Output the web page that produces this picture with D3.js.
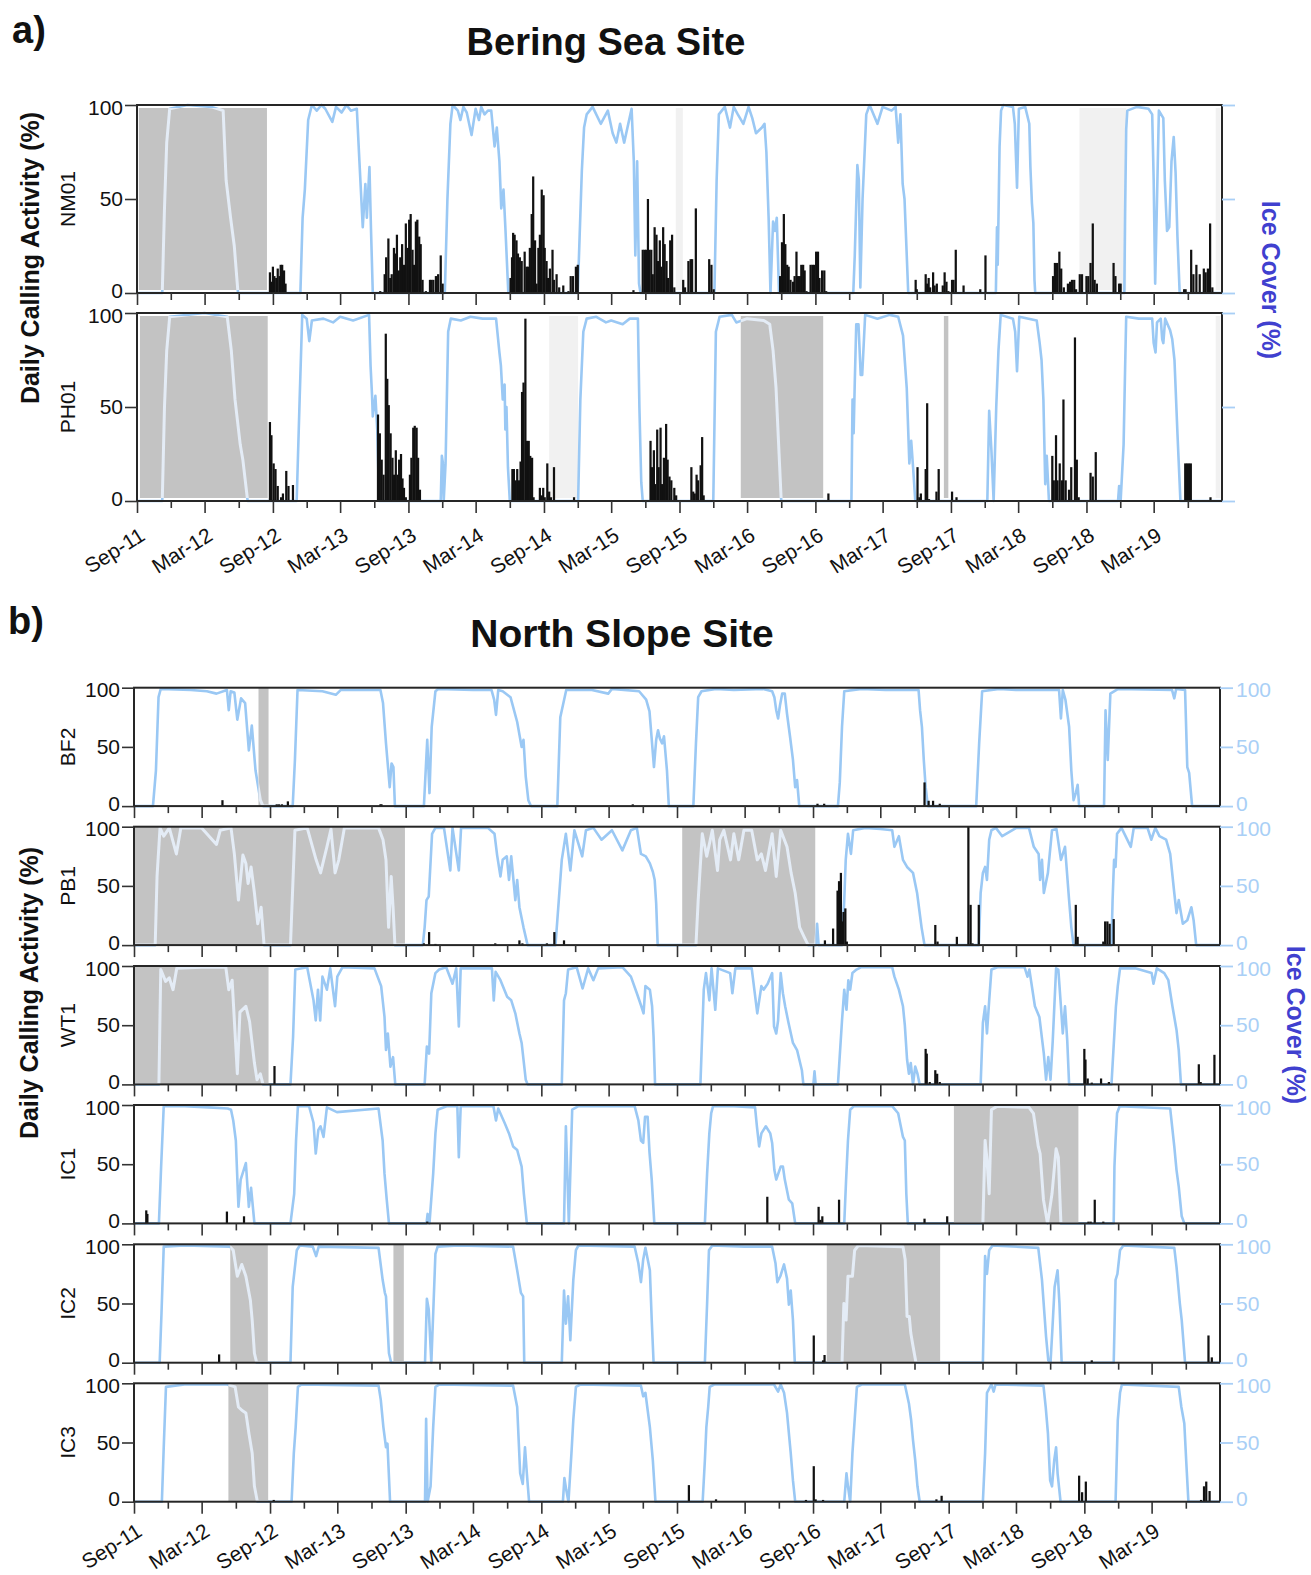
<!DOCTYPE html>
<html>
<head>
<meta charset="utf-8">
<script src="https://cdnjs.cloudflare.com/ajax/libs/d3/7.8.5/d3.min.js"></script>
<style>
  body { margin: 0; background: #fff; }
  svg { display: block; }
</style>
</head>
<body>
<svg id="chart" width="1311" height="1575"></svg>
<script>
const X_LABELS = ['Sep-11','Mar-12','Sep-12','Mar-13','Sep-13','Mar-14','Sep-14','Mar-15','Sep-15','Mar-16','Sep-16','Mar-17','Sep-17','Mar-18','Sep-18','Mar-19'];
const Y_TICKS = [0, 50, 100];

// ---- Bering Sea ----
const iceNM01 = [["2011-09-01",0],
  ["2011-11-08",0],["2011-11-14",45],["2011-11-20",80],["2011-11-28",98],["2012-01-15",100],["2012-03-20",99],["2012-04-20",97],["2012-04-28",60],["2012-05-10",40],["2012-05-20",25],["2012-05-30",0],
  ["2012-11-14",0],["2012-11-20",40],["2012-11-26",55],["2012-12-05",92],["2012-12-15",100],["2012-12-28",97],["2013-01-10",100],["2013-01-20",98],["2013-02-08",91],["2013-02-18",99],["2013-03-05",96],["2013-03-18",100],["2013-03-30",97],["2013-04-15",98],["2013-04-22",70],["2013-05-01",35],["2013-05-08",58],["2013-05-12",40],["2013-05-19",67],["2013-05-23",35],["2013-05-28",0],
  ["2013-12-08",0],["2013-12-15",50],["2013-12-23",90],["2013-12-29",100],["2014-01-12",97],["2014-01-19",92],["2014-01-27",99],["2014-02-05",96],["2014-02-18",84],["2014-03-01",98],["2014-03-10",92],["2014-03-16",99],["2014-03-25",95],["2014-04-03",97],["2014-04-12",97],["2014-04-21",78],["2014-04-27",88],["2014-05-04",70],["2014-05-09",45],["2014-05-15",55],["2014-05-20",35],["2014-05-28",0],
  ["2014-12-01",0],["2014-12-06",30],["2014-12-12",65],["2014-12-18",88],["2014-12-25",95],["2015-01-10",99],["2015-02-01",90],["2015-02-20",97],["2015-03-05",85],["2015-03-15",80],["2015-03-25",90],["2015-04-05",80],["2015-04-25",98],["2015-05-01",70],["2015-05-05",20],["2015-05-10",70],["2015-05-15",5],["2015-05-19",0],
  ["2015-12-04",0],["2015-12-10",60],["2015-12-16",95],["2016-01-01",99],["2016-01-15",88],["2016-01-25",99],["2016-02-05",95],["2016-02-20",90],["2016-03-05",99],["2016-03-15",93],["2016-03-25",85],["2016-04-10",88],["2016-04-17",90],["2016-04-22",75],["2016-04-28",40],["2016-05-03",0],["2016-05-10",38],["2016-05-15",33],["2016-05-20",40],["2016-05-26",0],
  ["2016-12-12",0],["2016-12-16",20],["2016-12-23",68],["2016-12-27",60],["2016-12-31",3],["2017-01-06",50],["2017-01-16",95],["2017-01-25",100],["2017-02-15",90],["2017-03-01",99],["2017-03-25",97],["2017-04-05",99],["2017-04-12",80],["2017-04-18",95],["2017-04-24",58],["2017-04-29",50],["2017-05-03",30],["2017-05-09",0],
  ["2017-12-31",0],["2018-01-03",35],["2018-01-05",15],["2018-01-10",78],["2018-01-14",97],["2018-01-20",100],["2018-02-15",99],["2018-02-20",90],["2018-02-26",56],["2018-03-03",98],["2018-03-20",99],["2018-03-31",90],["2018-04-03",67],["2018-04-07",48],["2018-04-11",37],["2018-04-14",7],["2018-04-16",0],
  ["2018-12-12",0],["2018-12-14",42],["2018-12-17",87],["2018-12-20",97],["2019-01-15",99],["2019-02-15",98],["2019-02-25",95],["2019-03-01",60],["2019-03-05",5],["2019-03-10",50],["2019-03-15",97],["2019-03-27",93],["2019-03-31",60],["2019-04-06",33],["2019-04-12",35],["2019-04-18",70],["2019-04-24",83],["2019-04-29",64],["2019-05-04",30],["2019-05-10",0],
  ["2019-09-01",0]];
const callsNM01 = [
  ["2012-08-24",11],["2012-08-28",6],["2012-09-01",14],["2012-09-05",9],["2012-09-10",8],["2012-09-14",13],["2012-09-19",9],["2012-09-22",15],["2012-09-26",15],["2012-10-01",12],["2012-10-05",5],
  ["2013-06-17",1],["2013-06-29",10],["2013-07-03",19],["2013-07-09",29],["2013-07-14",8],["2013-07-18",10],["2013-07-24",24],["2013-07-28",21],["2013-08-01",31],["2013-08-06",12],["2013-08-10",19],["2013-08-15",26],["2013-08-20",15],["2013-08-25",37],["2013-08-30",24],["2013-09-03",39],["2013-09-07",42],["2013-09-12",23],["2013-09-16",15],["2013-09-21",38],["2013-09-25",39],["2013-09-30",30],["2013-10-04",26],["2013-10-09",7],["2013-10-18",1],["2013-10-29",7],["2013-11-02",7],["2013-11-07",7],["2013-11-14",9],["2013-11-20",10],["2013-11-27",20],["2013-12-02",5],
  ["2014-06-03",8],["2014-06-07",19],["2014-06-10",32],["2014-06-14",31],["2014-06-19",28],["2014-06-23",21],["2014-06-28",19],["2014-07-03",17],["2014-07-11",22],["2014-07-16",14],["2014-07-20",14],["2014-07-25",24],["2014-07-30",42],["2014-08-03",62],["2014-08-08",28],["2014-08-12",5],["2014-08-17",24],["2014-08-21",31],["2014-08-26",55],["2014-08-31",52],["2014-09-03",24],["2014-09-08",17],["2014-09-12",8],["2014-09-17",13],["2014-09-24",23],["2014-09-28",7],["2014-10-05",10],["2014-10-12",3],["2014-10-23",4],["2014-11-06",1],["2014-11-12",9],["2014-11-18",9],["2014-11-26",14],["2014-12-01",15],
  ["2015-04-30",1.5],["2015-05-25",23],["2015-05-30",23],["2015-06-03",23],["2015-06-08",50],["2015-06-12",23],["2015-06-17",23],["2015-06-21",10],["2015-06-26",35],["2015-07-01",31],["2015-07-05",17],["2015-07-10",28],["2015-07-14",14],["2015-07-19",35],["2015-07-23",26],["2015-07-28",17],["2015-08-01",8],["2015-08-07",28],["2015-08-12",31],["2015-08-18",3],["2015-09-11",7],["2015-09-16",3],["2015-09-25",17],["2015-10-01",18],["2015-10-05",18],["2015-10-15",45],["2015-11-20",18],["2015-11-26",15],["2015-12-02",2],
  ["2016-05-29",9],["2016-06-03",27],["2016-06-08",42],["2016-06-12",26],["2016-06-17",15],["2016-06-21",14],["2016-06-26",7],["2016-07-03",6],["2016-07-07",9],["2016-07-12",22],["2016-07-16",9],["2016-07-21",9],["2016-07-25",15],["2016-07-30",15],["2016-08-03",12],["2016-08-08",1],["2016-08-19",15],["2016-08-24",15],["2016-08-28",15],["2016-09-03",22],["2016-09-08",22],["2016-09-12",8],["2016-09-19",12],["2016-09-25",12],["2016-09-30",1],
  ["2017-05-29",7],["2017-06-01",2],["2017-06-25",10],["2017-06-29",5],["2017-07-03",8],["2017-07-07",3],["2017-07-15",11],["2017-07-19",4],["2017-07-25",5],["2017-08-10",4],["2017-08-15",11],["2017-08-20",6],["2017-08-25",1],["2017-09-04",7],["2017-09-08",7],["2017-09-14",23],["2017-10-05",4],["2017-11-19",2],["2017-12-03",20],
  ["2018-06-03",9],["2018-06-08",16],["2018-06-14",16],["2018-06-20",22],["2018-06-25",13],["2018-07-02",3],["2018-07-13",5],["2018-07-19",6],["2018-07-24",7],["2018-07-30",7],["2018-08-04",2],["2018-08-14",10],["2018-08-20",10],["2018-09-01",9],["2018-09-06",9],["2018-09-12",16],["2018-09-18",37],["2018-09-23",7],["2018-09-29",5],["2018-11-13",16],["2018-11-18",9],["2018-11-28",5],["2018-12-02",5],
  ["2019-05-22",2],["2019-05-26",2],["2019-06-10",23],["2019-06-16",10],["2019-06-24",15],["2019-07-03",10],["2019-07-14",13],["2019-07-19",11],["2019-07-25",13],["2019-07-31",37],["2019-08-06",3]];
const gapsNM01 = [["2011-09-06","2012-08-16"]];
const faintNM01 = [["2015-08-22","2015-09-10"],["2018-08-13","2018-12-17"],["2019-08-15","2019-08-28"]];

const icePH01 = [["2011-09-01",0],
  ["2011-11-08",0],["2011-11-14",50],["2011-11-20",80],["2011-11-28",98],["2012-03-01",100],["2012-05-01",98],["2012-05-12",80],["2012-05-22",54],["2012-06-05",30],["2012-06-12",22],["2012-06-25",0],
  ["2012-11-04",0],["2012-11-12",54],["2012-11-19",99],["2012-12-01",97],["2012-12-08",85],["2012-12-15",96],["2013-01-15",97],["2013-02-10",95],["2013-03-01",98],["2013-04-05",96],["2013-05-18",99],["2013-05-22",72],["2013-05-26",56],["2013-05-28",45],["2013-06-04",56],["2013-06-09",38],["2013-06-14",0],
  ["2013-11-27",0],["2013-11-30",24],["2013-12-03",20],["2013-12-05",0],["2013-12-10",20],["2013-12-17",90],["2013-12-24",97],["2014-01-20",96],["2014-02-15",98],["2014-03-20",97],["2014-04-25",97],["2014-05-04",79],["2014-05-08",72],["2014-05-13",54],["2014-05-18",62],["2014-05-20",38],["2014-05-23",50],["2014-05-27",18],["2014-06-01",0],
  ["2014-12-02",0],["2014-12-08",54],["2014-12-16",90],["2014-12-25",97],["2015-01-20",98],["2015-02-15",95],["2015-03-01",96],["2015-04-01",94],["2015-04-20",97],["2015-05-12",97],["2015-05-16",50],["2015-05-21",10],["2015-05-25",0],
  ["2015-12-01",0],["2015-12-08",90],["2015-12-18",98],["2016-01-20",99],["2016-02-01",95],["2016-03-01",97],["2016-04-15",96],["2016-05-01",94],["2016-05-10",80],["2016-05-18",60],["2016-05-25",30],["2016-06-01",0],
  ["2016-12-07",0],["2016-12-10",54],["2016-12-13",36],["2016-12-16",63],["2016-12-20",94],["2016-12-26",94],["2017-01-01",67],["2017-01-05",67],["2017-01-13",99],["2017-02-15",97],["2017-03-20",99],["2017-04-12",98],["2017-04-25",88],["2017-05-05",60],["2017-05-12",20],["2017-05-17",32],["2017-05-22",18],["2017-05-28",0],
  ["2017-12-08",0],["2017-12-13",48],["2017-12-19",27],["2017-12-25",0],["2018-01-01",50],["2018-01-07",80],["2018-01-13",99],["2018-02-15",97],["2018-02-21",90],["2018-02-26",69],["2018-03-04",98],["2018-04-20",96],["2018-04-28",84],["2018-05-03",75],["2018-05-08",54],["2018-05-13",9],["2018-05-17",24],["2018-05-23",0],
  ["2018-11-25",0],["2018-11-28",8],["2018-12-02",0],["2018-12-10",30],["2018-12-14",70],["2018-12-17",98],["2019-01-20",97],["2019-02-25",97],["2019-03-01",84],["2019-03-06",79],["2019-03-10",95],["2019-03-20",97],["2019-03-24",86],["2019-03-27",84],["2019-04-01",97],["2019-04-14",91],["2019-04-20",86],["2019-04-26",75],["2019-05-04",36],["2019-05-12",0],
  ["2019-09-01",0]];
const callsPH01 = [
  ["2012-08-24",42],["2012-08-28",35],["2012-09-03",20],["2012-09-08",17],["2012-09-14",8],["2012-09-23",2],["2012-09-28",4],["2012-10-07",16],["2012-10-13",8],["2012-10-25",8.5],
  ["2013-06-11",46],["2013-06-16",36],["2013-06-21",22],["2013-06-26",14],["2013-07-02",89],["2013-07-06",65],["2013-07-10",51],["2013-07-15",36],["2013-07-20",23],["2013-07-24",14],["2013-07-29",27],["2013-08-03",14],["2013-08-07",22],["2013-08-12",25],["2013-08-16",12],["2013-08-20",7],["2013-08-25",2],["2013-09-05",14],["2013-09-09",23],["2013-09-14",39],["2013-09-18",40],["2013-09-23",39],["2013-09-27",23],["2013-10-02",6],
  ["2014-06-08",17],["2014-06-12",17],["2014-06-17",11],["2014-06-21",17],["2014-06-26",11],["2014-06-30",21],["2014-07-04",58],["2014-07-08",63],["2014-07-13",97],["2014-07-17",32],["2014-07-22",32],["2014-07-26",24],["2014-07-31",23],["2014-08-04",2],["2014-08-21",7],["2014-08-26",3],["2014-08-30",7],["2014-09-03",2],["2014-09-10",20],["2014-09-15",5],["2014-09-20",2],["2014-09-28",18],["2014-11-21",2],
  ["2015-06-15",32],["2015-06-19",18],["2015-06-24",27],["2015-06-28",9],["2015-07-03",38],["2015-07-07",18],["2015-07-12",39],["2015-07-16",9],["2015-07-21",23],["2015-07-27",41],["2015-07-31",22],["2015-08-05",13],["2015-08-10",11],["2015-08-18",7],["2015-08-23",3],["2015-10-03",18],["2015-10-08",5],["2015-10-12",4],["2015-10-17",14],["2015-10-21",11],["2015-10-28",19],["2015-11-01",34],["2015-11-05",3],
  ["2016-10-06",4],
  ["2017-06-03",18],["2017-06-08",2],["2017-06-12",4],["2017-06-25",17],["2017-06-29",52],["2017-07-04",1],["2017-07-24",5],["2017-07-30",17],["2017-09-04",5],["2017-09-16",2],
  ["2018-06-01",24],["2018-06-05",11],["2018-06-11",35],["2018-06-15",11],["2018-06-21",20],["2018-06-27",11],["2018-07-01",54],["2018-07-07",11],["2018-07-16",6],["2018-07-22",18],["2018-08-01",87],["2018-08-06",22],["2018-08-11",2],["2018-09-12",15],["2018-09-18",13],["2018-09-26",26],
  ["2019-05-25",20],["2019-05-30",20],["2019-06-04",20],["2019-06-09",20],["2019-08-01",2]];
const gapsPH01 = [["2011-09-09","2012-08-18"],["2016-02-13","2016-09-22"],["2017-08-13","2017-08-25"]];
const faintPH01 = [["2014-09-15","2014-12-02"],["2019-08-15","2019-08-28"]];

// ---- North Slope ----
const iceBF2 = [["2011-09-01",0],
  ["2011-10-22",0],["2011-10-30",30],["2011-11-06",92],["2011-11-12",99],["2012-02-01",98],["2012-03-15",97],["2012-04-10",95],["2012-05-08",98],["2012-05-13",81],["2012-05-18",97],["2012-05-28",96],["2012-06-05",73],["2012-06-15",91],["2012-06-26",87],["2012-07-06",47],["2012-07-14",68],["2012-07-24",30],["2012-08-06",5],["2012-08-13",0],
  ["2012-11-01",0],["2012-11-07",39],["2012-11-14",98],["2013-01-20",97],["2013-02-25",94],["2013-03-10",98],["2013-06-25",98],["2013-07-02",87],["2013-07-10",53],["2013-07-20",16],["2013-07-25",36],["2013-07-30",33],["2013-08-03",0],
  ["2013-10-20",0],["2013-10-29",56],["2013-11-04",11],["2013-11-10",67],["2013-11-20",97],["2013-11-28",99],["2014-03-01",98],["2014-04-20",98],["2014-04-27",90],["2014-05-02",77],["2014-05-08",98],["2014-05-20",97],["2014-06-10",92],["2014-06-28",71],["2014-07-10",50],["2014-07-15",56],["2014-07-21",25],["2014-07-28",5],["2014-08-04",0],
  ["2014-10-14",0],["2014-10-22",75],["2014-11-07",98],["2015-01-15",98],["2015-02-28",95],["2015-03-10",99],["2015-05-22",97],["2015-06-10",90],["2015-06-19",80],["2015-07-01",33],["2015-07-07",56],["2015-07-12",64],["2015-07-17",57],["2015-07-23",53],["2015-07-28",59],["2015-08-05",30],["2015-08-10",0],
  ["2015-10-15",0],["2015-10-22",53],["2015-10-28",92],["2015-11-06",97],["2015-12-15",99],["2016-02-01",98],["2016-04-20",99],["2016-05-14",97],["2016-05-20",92],["2016-05-25",81],["2016-05-30",74],["2016-06-04",85],["2016-06-10",95],["2016-06-17",95],["2016-06-23",78],["2016-07-01",59],["2016-07-09",39],["2016-07-15",16],["2016-07-20",22],["2016-07-26",0],
  ["2016-11-07",0],["2016-11-12",20],["2016-11-18",67],["2016-11-24",97],["2017-01-10",99],["2017-03-15",98],["2017-06-12",98],["2017-06-16",81],["2017-06-21",67],["2017-06-26",39],["2017-07-01",16],["2017-07-07",0],
  ["2017-11-14",0],["2017-11-22",53],["2017-11-30",97],["2018-01-15",99],["2018-03-01",98],["2018-06-25",98],["2018-06-30",74],["2018-07-05",98],["2018-07-12",90],["2018-07-22",67],["2018-07-28",30],["2018-08-03",5],["2018-08-09",11],["2018-08-14",18],["2018-08-18",0],
  ["2018-10-24",0],["2018-10-28",81],["2018-11-03",39],["2018-11-10",95],["2018-12-01",99],["2019-04-25",98],["2019-05-01",91],["2019-05-06",99],["2019-05-30",98],["2019-06-05",33],["2019-06-10",28],["2019-06-18",0],
  ["2019-09-01",0]];
const callsBF2 = [["2012-04-26",5],["2012-09-19",1.5],["2012-09-25",1.5],["2012-10-03",1.5],["2012-10-19",4],["2013-06-25",1.5],["2013-06-28",1.5],["2015-05-05",1.5],["2016-09-13",2],["2016-10-01",2],["2017-06-28",20],["2017-07-09",4.5],["2017-07-21",4.5],["2017-08-08",2]];
const gapsBF2 = [["2012-08-01","2012-08-28"]];

const icePB1 = [["2011-09-01",0],
  ["2011-10-28",0],["2011-11-02",58],["2011-11-10",99],["2011-11-20",92],["2011-12-05",99],["2011-12-24",77],["2012-01-05",99],["2012-03-01",99],["2012-04-10",85],["2012-04-20",97],["2012-05-19",99],["2012-05-28",77],["2012-06-08",38],["2012-06-20",76],["2012-06-28",69],["2012-07-04",52],["2012-07-12",66],["2012-07-21",44],["2012-07-30",18],["2012-08-08",32],["2012-08-16",0],
  ["2012-10-26",0],["2012-11-07",97],["2012-12-10",99],["2013-01-03",72],["2013-01-15",61],["2013-02-01",83],["2013-02-12",98],["2013-02-23",61],["2013-03-05",72],["2013-03-20",99],["2013-06-20",99],["2013-07-02",89],["2013-07-10",72],["2013-07-17",15],["2013-07-24",58],["2013-07-29",32],["2013-08-03",0],
  ["2013-10-17",0],["2013-10-22",15],["2013-10-27",38],["2013-11-02",41],["2013-11-11",94],["2013-11-20",99],["2013-12-13",99],["2013-12-30",63],["2014-01-05",99],["2014-01-22",63],["2014-01-28",99],["2014-04-10",99],["2014-04-28",94],["2014-05-05",76],["2014-05-14",58],["2014-05-20",72],["2014-05-31",75],["2014-06-06",55],["2014-06-12",75],["2014-06-23",38],["2014-06-28",55],["2014-07-04",32],["2014-07-15",15],["2014-07-26",0],
  ["2014-10-09",0],["2014-10-18",38],["2014-10-26",72],["2014-11-06",94],["2014-11-18",63],["2014-11-29",97],["2014-12-20",75],["2014-12-30",97],["2015-01-19",99],["2015-02-10",89],["2015-03-10",97],["2015-04-07",80],["2015-04-30",97],["2015-05-16",99],["2015-05-27",77],["2015-06-09",75],["2015-06-20",69],["2015-06-28",62],["2015-07-03",55],["2015-07-07",35],["2015-07-11",0],
  ["2015-10-22",0],["2015-10-28",38],["2015-11-08",94],["2015-11-20",75],["2015-12-05",97],["2015-12-19",63],["2015-12-25",89],["2016-01-05",97],["2016-01-23",72],["2016-02-01",94],["2016-02-14",72],["2016-02-28",97],["2016-03-20",97],["2016-04-04",72],["2016-04-15",77],["2016-04-26",63],["2016-05-14",94],["2016-05-25",58],["2016-06-06",97],["2016-06-23",83],["2016-07-04",61],["2016-07-15",44],["2016-07-27",15],["2016-08-08",7],["2016-08-19",0],
  ["2016-09-08",0],["2016-09-12",18],["2016-09-16",0],["2016-11-18",0],["2016-11-24",38],["2016-11-28",72],["2016-12-04",94],["2016-12-12",77],["2016-12-18",97],["2017-01-20",99],["2017-03-01",98],["2017-04-02",97],["2017-04-08",83],["2017-04-20",92],["2017-05-01",72],["2017-05-12",66],["2017-05-28",61],["2017-06-08",44],["2017-06-20",15],["2017-06-28",0],
  ["2017-11-21",0],["2017-11-26",44],["2017-12-02",61],["2017-12-08",66],["2017-12-13",55],["2017-12-19",89],["2017-12-25",97],["2018-01-06",99],["2018-01-23",92],["2018-03-02",99],["2018-04-05",99],["2018-04-18",83],["2018-05-01",77],["2018-05-05",55],["2018-05-10",72],["2018-05-15",44],["2018-05-26",61],["2018-06-06",97],["2018-06-18",98],["2018-06-30",72],["2018-07-11",83],["2018-07-22",38],["2018-07-28",15],["2018-08-03",0],
  ["2018-11-13",0],["2018-11-16",38],["2018-11-20",72],["2018-11-24",66],["2018-11-28",94],["2018-12-10",99],["2019-01-04",83],["2019-01-12",99],["2019-02-18",99],["2019-02-28",89],["2019-03-11",99],["2019-03-22",92],["2019-04-09",89],["2019-04-20",77],["2019-05-01",44],["2019-05-07",27],["2019-05-13",38],["2019-05-24",18],["2019-06-05",21],["2019-06-16",32],["2019-06-22",21],["2019-06-29",0],
  ["2019-09-01",0]];
const callsPB1 = [["2013-10-20",1.5],["2013-11-03",11],["2013-11-20",1],["2014-04-30",1.5],["2014-07-04",4],["2014-07-12",1.5],["2014-09-16",1.5],["2014-10-06",11],["2014-11-01",4],
  ["2016-10-03",4],["2016-10-25",14],["2016-11-06",46],["2016-11-10",54],["2016-11-15",61],["2016-11-18",20],["2016-11-22",28],["2016-11-27",31],["2016-12-01",3],
  ["2017-07-27",17],["2017-08-02",3],["2017-09-23",7],["2017-10-24",100],["2017-10-30",34],["2017-11-04",1.5],["2017-11-21",34],
  ["2018-08-09",34],["2018-08-14",7],["2018-10-22",3],["2018-10-27",20],["2018-11-02",20],["2018-11-08",18],["2018-11-19",22]];
const gapsPB1 = [["2011-09-01","2013-08-30"],["2015-09-15","2016-09-07"]];

const iceWT1 = [["2011-09-01",0],
  ["2011-11-07",0],["2011-11-12",97],["2011-11-25",87],["2011-12-05",90],["2011-12-15",80],["2011-12-25",98],["2012-03-01",99],["2012-05-05",99],["2012-05-13",80],["2012-05-22",88],["2012-06-05",9],["2012-06-12",61],["2012-06-28",66],["2012-07-08",53],["2012-07-21",18],["2012-07-28",4],["2012-08-06",9],["2012-08-13",0],
  ["2012-10-26",0],["2012-11-02",40],["2012-11-08",97],["2012-12-10",99],["2012-12-27",71],["2013-01-02",54],["2013-01-08",80],["2013-01-14",54],["2013-01-20",91],["2013-02-01",80],["2013-02-10",98],["2013-02-23",66],["2013-03-01",91],["2013-03-15",99],["2013-06-09",98],["2013-06-27",83],["2013-07-06",57],["2013-07-10",29],["2013-07-15",43],["2013-07-22",15],["2013-07-29",23],["2013-08-04",0],
  ["2013-10-22",0],["2013-10-28",32],["2013-11-03",26],["2013-11-09",77],["2013-11-20",94],["2013-11-30",97],["2013-12-19",99],["2014-01-05",85],["2014-01-15",98],["2014-01-22",49],["2014-01-27",98],["2014-04-21",98],["2014-04-26",71],["2014-05-01",95],["2014-05-14",88],["2014-06-01",74],["2014-06-12",71],["2014-06-23",60],["2014-07-04",43],["2014-07-10",35],["2014-07-21",4],["2014-07-26",0],
  ["2014-10-26",0],["2014-11-01",71],["2014-11-06",77],["2014-11-12",97],["2014-12-05",99],["2014-12-21",81],["2015-01-05",98],["2015-01-19",88],["2015-02-01",98],["2015-04-07",99],["2015-04-30",91],["2015-05-16",77],["2015-05-28",66],["2015-06-03",60],["2015-06-08",83],["2015-06-20",80],["2015-06-26",66],["2015-06-30",40],["2015-07-04",0],
  ["2015-11-03",0],["2015-11-12",80],["2015-11-18",94],["2015-11-27",71],["2015-12-03",98],["2015-12-13",63],["2015-12-20",98],["2016-01-22",94],["2016-01-28",77],["2016-02-05",98],["2016-03-20",98],["2016-04-04",60],["2016-04-15",83],["2016-04-21",80],["2016-05-02",85],["2016-05-14",94],["2016-05-19",49],["2016-05-25",43],["2016-05-30",54],["2016-06-06",94],["2016-06-12",77],["2016-06-18",66],["2016-06-27",52],["2016-07-09",35],["2016-07-20",29],["2016-08-02",12],["2016-08-06",0],["2016-09-02",0],["2016-09-05",11],["2016-09-08",0],
  ["2016-11-07",0],["2016-11-18",54],["2016-11-24",80],["2016-11-30",63],["2016-12-05",88],["2016-12-10",80],["2016-12-16",94],["2016-12-27",97],["2017-01-09",99],["2017-03-20",99],["2017-04-02",99],["2017-04-08",91],["2017-04-20",80],["2017-05-01",66],["2017-05-06",50],["2017-05-12",21],["2017-05-17",9],["2017-05-22",18],["2017-05-28",0],["2017-06-03",15],["2017-06-09",9],["2017-06-15",0],
  ["2017-11-26",0],["2017-12-02",52],["2017-12-08",66],["2017-12-13",43],["2017-12-19",71],["2017-12-25",97],["2018-01-10",99],["2018-03-24",99],["2018-04-01",91],["2018-04-06",97],["2018-04-21",66],["2018-05-03",57],["2018-05-15",26],["2018-05-21",4],["2018-05-27",23],["2018-06-02",4],["2018-06-08",37],["2018-06-17",98],["2018-06-23",97],["2018-06-30",66],["2018-07-05",43],["2018-07-11",66],["2018-07-17",37],["2018-07-22",0],
  ["2018-11-13",0],["2018-11-25",66],["2018-11-30",83],["2018-12-06",98],["2019-01-16",98],["2019-03-01",94],["2019-03-06",85],["2019-03-15",98],["2019-04-04",94],["2019-04-15",88],["2019-04-26",66],["2019-05-07",46],["2019-05-13",29],["2019-05-19",0],
  ["2019-09-01",0]];
const callsWT1 = [["2012-09-13",15.5],["2017-07-01",30],["2017-07-04",26],["2017-07-12",2],["2017-07-27",12],["2017-08-01",9],["2017-08-08",2],["2018-09-01",30],["2018-09-04",21],["2018-09-10",5],["2018-09-21",1.5],["2018-10-16",5],["2018-11-06",2],["2019-07-06",17],["2019-07-11",2],["2019-08-17",25]];
const gapsWT1 = [["2011-09-01","2012-08-28"]];

const iceIC1 = [["2011-09-01",0],
  ["2011-11-07",0],["2011-11-13",48],["2011-11-20",99],["2012-01-15",99],["2012-03-20",98],["2012-05-10",97],["2012-05-19",96],["2012-05-25",87],["2012-06-01",70],["2012-06-08",14],["2012-06-14",37],["2012-06-28",51],["2012-07-06",14],["2012-07-12",30],["2012-07-21",0],
  ["2012-10-26",0],["2012-11-05",25],["2012-11-10",70],["2012-11-15",99],["2012-12-15",99],["2012-12-27",85],["2013-01-02",59],["2013-01-09",79],["2013-01-15",82],["2013-01-23",73],["2013-02-01",98],["2013-02-28",94],["2013-06-20",97],["2013-07-01",70],["2013-07-06",42],["2013-07-12",20],["2013-07-18",0],
  ["2013-10-27",0],["2013-10-30",8],["2013-11-04",0],["2013-11-14",42],["2013-11-20",76],["2013-11-26",96],["2013-12-20",99],["2014-01-18",99],["2014-01-22",56],["2014-01-27",99],["2014-04-25",99],["2014-05-02",87],["2014-05-08",97],["2014-05-25",85],["2014-06-06",76],["2014-06-17",65],["2014-06-28",62],["2014-07-10",48],["2014-07-16",25],["2014-07-24",0],
  ["2014-11-01",0],["2014-11-06",82],["2014-11-14",0],["2014-11-23",96],["2014-12-10",99],["2015-02-01",99],["2015-05-10",99],["2015-05-20",87],["2015-05-27",70],["2015-06-02",68],["2015-06-07",90],["2015-06-14",90],["2015-06-19",60],["2015-06-25",37],["2015-07-02",0],
  ["2015-11-15",0],["2015-11-21",42],["2015-11-27",76],["2015-12-02",93],["2015-12-07",99],["2016-02-01",99],["2016-03-29",98],["2016-04-03",82],["2016-04-09",65],["2016-04-15",76],["2016-04-27",82],["2016-05-09",76],["2016-05-14",68],["2016-05-20",45],["2016-05-25",37],["2016-06-06",48],["2016-06-12",48],["2016-06-17",37],["2016-06-28",20],["2016-07-07",17],["2016-07-15",0],
  ["2016-11-24",0],["2016-11-29",37],["2016-12-04",70],["2016-12-10",96],["2016-12-20",99],["2017-04-02",99],["2017-04-18",93],["2017-05-01",73],["2017-05-06",70],["2017-05-10",25],["2017-05-14",0],
  ["2017-12-02",0],["2017-12-08",70],["2017-12-13",54],["2017-12-19",25],["2017-12-25",96],["2018-01-10",99],["2018-04-05",98],["2018-04-17",93],["2018-04-30",65],["2018-05-05",59],["2018-05-14",20],["2018-05-25",0],["2018-06-06",25],["2018-06-17",63],["2018-06-23",56],["2018-06-30",0],
  ["2018-11-19",0],["2018-11-21",48],["2018-11-24",70],["2018-11-28",93],["2018-12-05",99],["2019-04-20",97],["2019-05-01",65],["2019-05-07",45],["2019-05-13",31],["2019-05-21",6],["2019-05-28",0],
  ["2019-09-01",0]];
const callsIC1 = [["2011-10-04",11],["2011-10-07",8],["2012-05-08",10],["2012-06-23",6],["2013-10-29",1.5],["2016-05-01",22.5],["2016-09-16",14],["2016-09-21",3],["2016-09-26",6],["2016-11-10",20],["2017-06-28",4],["2017-08-28",6],["2018-09-12",1.5],["2018-09-18",1.5],["2018-09-29",20],["2018-10-22",1.5]];
const gapsIC1 = [["2017-09-15","2018-08-16"]];

const iceIC2 = [["2011-09-01",0],
  ["2011-11-09",0],["2011-11-14",42],["2011-11-20",98],["2012-01-15",99],["2012-05-16",98],["2012-05-25",95],["2012-06-05",73],["2012-06-17",83],["2012-06-28",73],["2012-07-10",53],["2012-07-15",36],["2012-07-21",8],["2012-07-27",0],
  ["2012-10-26",0],["2012-11-01",64],["2012-11-06",78],["2012-11-12",95],["2012-11-20",99],["2012-12-25",98],["2013-01-03",90],["2013-01-10",98],["2013-06-20",97],["2013-07-01",70],["2013-07-07",59],["2013-07-10",56],["2013-07-18",8],["2013-07-24",0],
  ["2013-10-23",0],["2013-10-28",54],["2013-11-02",45],["2013-11-09",0],["2013-11-15",50],["2013-11-20",92],["2013-11-26",98],["2014-01-20",99],["2014-06-17",98],["2014-06-28",78],["2014-07-08",59],["2014-07-14",56],["2014-07-17",0],
  ["2014-10-26",0],["2014-11-01",61],["2014-11-06",33],["2014-11-12",56],["2014-11-18",19],["2014-11-26",70],["2014-12-03",95],["2014-12-10",99],["2015-05-10",98],["2015-05-20",84],["2015-05-27",68],["2015-06-02",87],["2015-06-08",97],["2015-06-20",78],["2015-06-25",36],["2015-06-30",0],
  ["2015-11-15",0],["2015-11-21",50],["2015-11-26",95],["2015-12-05",99],["2016-03-01",98],["2016-05-14",98],["2016-05-23",84],["2016-05-28",68],["2016-06-05",73],["2016-06-15",83],["2016-06-23",71],["2016-06-28",49],["2016-07-03",61],["2016-07-09",36],["2016-07-14",0],
  ["2016-11-18",0],["2016-11-23",50],["2016-11-29",36],["2016-12-04",73],["2016-12-16",73],["2016-12-22",95],["2017-01-01",99],["2017-05-01",98],["2017-05-07",87],["2017-05-12",39],["2017-05-18",39],["2017-05-22",25],["2017-05-28",14],["2017-06-05",0],
  ["2017-12-02",0],["2017-12-08",90],["2017-12-13",75],["2017-12-19",95],["2017-12-28",99],["2018-04-30",97],["2018-05-10",70],["2018-05-21",22],["2018-05-27",2],["2018-06-02",0],["2018-06-07",28],["2018-06-13",64],["2018-06-21",78],["2018-06-26",50],["2018-07-02",0],
  ["2018-11-19",0],["2018-11-24",70],["2018-11-29",75],["2018-12-06",95],["2018-12-15",99],["2019-05-01",97],["2019-05-07",81],["2019-05-16",50],["2019-05-21",36],["2019-05-30",0],
  ["2019-09-01",0]];
const callsIC2 = [["2012-04-17",7],["2016-09-03",23],["2016-09-28",2],["2016-10-02",6.5],["2018-09-21",2],["2019-08-01",23],["2019-08-10",4.5]];
const gapsIC2 = [["2012-05-17","2012-08-26"],["2013-07-30","2013-08-27"],["2016-10-08","2017-08-09"]];

const iceIC3 = [["2011-09-01",0],
  ["2011-11-15",0],["2011-11-20",46],["2011-11-26",97],["2012-01-15",99],["2012-05-08",99],["2012-05-30",97],["2012-06-08",80],["2012-06-18",77],["2012-06-28",75],["2012-07-06",58],["2012-07-15",41],["2012-07-21",13],["2012-07-29",0],
  ["2012-10-29",0],["2012-11-04",41],["2012-11-09",63],["2012-11-15",97],["2012-11-25",99],["2013-06-20",98],["2013-06-26",86],["2013-07-03",63],["2013-07-10",46],["2013-07-14",49],["2013-07-21",0],
  ["2013-10-23",0],["2013-10-26",70],["2013-10-30",0],["2013-11-07",13],["2013-11-14",63],["2013-11-20",97],["2013-12-01",99],["2014-06-17",98],["2014-06-28",80],["2014-07-06",24],["2014-07-13",15],["2014-07-19",46],["2014-07-24",24],["2014-07-30",0],
  ["2014-10-29",0],["2014-11-02",20],["2014-11-07",10],["2014-11-13",0],["2014-11-21",41],["2014-11-26",69],["2014-12-03",97],["2014-12-15",99],["2015-05-27",98],["2015-06-02",89],["2015-06-08",92],["2015-06-20",63],["2015-06-28",35],["2015-07-05",0],
  ["2015-11-09",0],["2015-11-15",35],["2015-11-19",63],["2015-11-24",80],["2015-11-28",97],["2015-12-10",99],["2016-05-19",99],["2016-05-30",93],["2016-06-06",99],["2016-06-15",92],["2016-06-23",75],["2016-06-28",58],["2016-07-03",41],["2016-07-09",18],["2016-07-15",0],
  ["2016-11-24",0],["2016-11-30",24],["2016-12-04",13],["2016-12-10",0],["2016-12-16",41],["2016-12-22",69],["2016-12-28",97],["2017-01-10",99],["2017-05-06",99],["2017-05-17",83],["2017-05-23",69],["2017-05-28",52],["2017-06-03",35],["2017-06-09",13],["2017-06-15",0],
  ["2017-12-02",0],["2017-12-08",41],["2017-12-13",92],["2017-12-25",99],["2017-12-31",93],["2018-01-05",99],["2018-05-14",98],["2018-05-20",80],["2018-05-26",58],["2018-06-01",18],["2018-06-06",13],["2018-06-12",35],["2018-06-17",46],["2018-06-21",24],["2018-06-29",0],
  ["2018-11-24",0],["2018-11-30",69],["2018-12-06",92],["2018-12-11",99],["2019-05-13",97],["2019-05-20",80],["2019-05-28",66],["2019-06-02",35],["2019-06-08",0],
  ["2019-09-01",0]];
const callsIC3 = [["2012-09-11",1.5],["2015-10-03",14],["2015-12-15",2],["2016-08-13",1.5],["2016-09-03",30],["2016-09-08",2],["2016-09-28",1.5],["2017-07-30",2],["2017-08-13",5],["2018-08-18",22],["2018-08-26",8],["2018-09-05",17],["2019-07-12",1.5],["2019-07-20",13],["2019-07-26",17],["2019-08-04",9]];
const gapsIC3 = [["2012-05-12","2012-08-27"]];

const beringSites = [
  { name: 'NM01', ice: iceNM01, calls: callsNM01, gaps: gapsNM01, faint: faintNM01 },
  { name: 'PH01', ice: icePH01, calls: callsPH01, gaps: gapsPH01, faint: faintPH01 }
];
const slopeSites = [
  { name: 'BF2', ice: iceBF2, calls: callsBF2, gaps: gapsBF2, faint: [] },
  { name: 'PB1', ice: icePB1, calls: callsPB1, gaps: gapsPB1, faint: [] },
  { name: 'WT1', ice: iceWT1, calls: callsWT1, gaps: gapsWT1, faint: [] },
  { name: 'IC1', ice: iceIC1, calls: callsIC1, gaps: gapsIC1, faint: [] },
  { name: 'IC2', ice: iceIC2, calls: callsIC2, gaps: gapsIC2, faint: [] },
  { name: 'IC3', ice: iceIC3, calls: callsIC3, gaps: gapsIC3, faint: [] }
];

const FONT = '"Liberation Sans", Arial, Helvetica, sans-serif';
const ICE_COLOR = '#9ac8f4';
const ICE_PALE = '#e4ecf6';
const ICE_AXIS = '#a9cff6';
const TITLE_BLUE = '#4040cf';

const parseDate = d3.utcParse('%Y-%m-%d');
const parseLabel = d3.utcParse('%b-%y');
const fmtLabel = d3.utcFormat('%b-%y');
const startDate = parseDate('2011-09-01');
const endDate = parseDate('2019-09-01');

const majorTicks = X_LABELS.map(parseLabel);
const allTicks = majorTicks.flatMap(d => [d, d3.utcMonth.offset(d, 3)]);
const isMajor = d => X_LABELS.includes(fmtLabel(d));
// nudge end labels apart so stacked panels' "0" and "100" do not collide
const tickNudge = d => d === 0 ? -2.5 : (d === 100 ? 2.5 : 0);

const svg = d3.select('#chart').attr('font-family', FONT);

function drawGroup(sites, layout) {
  const x = d3.scaleUtc().domain([startDate, endDate]).range([layout.left, layout.right]);
  const barW = x(d3.utcDay.offset(startDate, 6)) - x(startDate);

  sites.forEach((site, i) => {
    const top = layout.tops[i];
    const bottom = top + layout.height;
    const y = d3.scaleLinear().domain([0, 100]).range([bottom, top]);
    const g = svg.append('g').attr('class', 'panel-' + site.name);

    const spanRect = sel => sel
      .attr('x', d => x(parseDate(d[0])))
      .attr('width', d => x(parseDate(d[1])) - x(parseDate(d[0])))
      .attr('y', top + layout.inset)
      .attr('height', layout.height - 2 * layout.inset);

    g.selectAll(null).data(site.faint).join('rect')
      .call(spanRect)
      .attr('fill', '#f1f1f1');

    const line = d3.line()
      .x(d => x(parseDate(d[0])))
      .y(d => y(d[1]));

    g.append('path').datum(site.ice)
      .attr('d', line)
      .attr('fill', 'none')
      .attr('stroke', ICE_COLOR)
      .attr('stroke-width', 2.6)
      .attr('stroke-linejoin', 'round');

    // grey shading for missing data, ice drawn pale on top of it
    const clipId = 'gap-' + site.name;
    g.append('clipPath').attr('id', clipId)
      .selectAll('rect').data(site.gaps).join('rect')
      .call(spanRect);

    g.selectAll(null).data(site.gaps).join('rect')
      .call(spanRect)
      .attr('fill', '#c3c3c3');

    g.append('path').datum(site.ice)
      .attr('d', line)
      .attr('clip-path', `url(#${clipId})`)
      .attr('fill', 'none')
      .attr('stroke', ICE_PALE)
      .attr('stroke-width', 3)
      .attr('stroke-linejoin', 'round');

    g.selectAll(null).data(site.calls).join('rect')
      .attr('x', d => x(parseDate(d[0])) - barW / 2)
      .attr('width', barW)
      .attr('y', d => y(d[1]))
      .attr('height', d => y(0) - y(d[1]))
      .attr('fill', '#111');

    g.append('rect')
      .attr('x', layout.left)
      .attr('y', top)
      .attr('width', layout.right - layout.left)
      .attr('height', layout.height)
      .attr('fill', 'none')
      .attr('stroke', '#262626')
      .attr('stroke-width', 2);

    const showLabels = i === sites.length - 1;
    const xAxis = g.append('g')
      .attr('transform', `translate(0,${bottom})`)
      .call(d3.axisBottom(x).tickValues(allTicks).tickSize(12).tickPadding(0)
        .tickFormat(d => (showLabels && isMajor(d)) ? fmtLabel(d) : ''));
    xAxis.select('.domain').remove();
    xAxis.selectAll('.tick line')
      .attr('y2', d => isMajor(d) ? 12 : 7)
      .attr('stroke', '#333')
      .attr('stroke-width', 1.6);
    xAxis.selectAll('.tick text')
      .attr('x', 0).attr('y', 0).attr('dy', 0)
      .attr('text-anchor', 'end')
      .attr('transform', `translate(9,${layout.labelDy}) rotate(-32)`)
      .attr('font-size', 21)
      .attr('font-family', FONT)
      .attr('fill', '#111');

    const yAxis = g.append('g')
      .attr('transform', `translate(${layout.left},0)`)
      .call(d3.axisLeft(y).tickValues(Y_TICKS).tickSize(12).tickPadding(2));
    yAxis.select('.domain').remove();
    yAxis.selectAll('.tick line').attr('stroke', '#333').attr('stroke-width', 1.6);
    yAxis.selectAll('.tick text')
      .attr('y', tickNudge)
      .attr('font-size', 21)
      .attr('font-family', FONT)
      .attr('fill', '#111');

    const rAxis = g.append('g')
      .attr('transform', `translate(${layout.right},0)`)
      .call(d3.axisRight(y).tickValues(Y_TICKS).tickSize(13).tickPadding(3)
        .tickFormat(layout.rightLabels ? d3.format('d') : () => ''));
    rAxis.select('.domain').remove();
    rAxis.selectAll('.tick line').attr('stroke', ICE_AXIS).attr('stroke-width', 1.8);
    rAxis.selectAll('.tick text')
      .attr('y', tickNudge)
      .attr('font-size', 21)
      .attr('font-family', FONT)
      .attr('fill', ICE_AXIS);

    svg.append('text')
      .attr('transform', `translate(67,${(top + bottom) / 2}) rotate(-90)`)
      .attr('text-anchor', 'middle')
      .attr('dominant-baseline', 'central')
      .attr('font-size', 21)
      .attr('fill', '#111')
      .text(site.name);
  });
}

drawGroup(beringSites, {
  left: 137, right: 1222, tops: [105, 313], height: 188, inset: 3, labelDy: 38, rightLabels: false
});
drawGroup(slopeSites, {
  left: 134, right: 1220, tops: [687.7, 826.7, 966, 1105, 1244.3, 1383.3], height: 118.4, inset: 0, labelDy: 33, rightLabels: true
});

const addText = (txt, attrs) => {
  const t = svg.append('text').text(txt);
  Object.entries(attrs).forEach(([k, v]) => t.attr(k, v));
  return t;
};
addText('a)', { x: 12, y: 43, 'font-size': 38, 'font-weight': 'bold', fill: '#111' });
addText('b)', { x: 8, y: 634, 'font-size': 38, 'font-weight': 'bold', fill: '#111' });
addText('Bering Sea Site', { x: 606, y: 55, 'font-size': 38, 'font-weight': 'bold', 'text-anchor': 'middle', fill: '#111' });
addText('North Slope Site', { x: 622, y: 647, 'font-size': 39, 'font-weight': 'bold', 'text-anchor': 'middle', fill: '#111' });

[[258, 29.5], [993, 29]].forEach(([cy, cx]) => {
  addText('Daily Calling Activity (%)', {
    transform: `translate(${cx},${cy}) rotate(-90)`, 'text-anchor': 'middle', 'dominant-baseline': 'central',
    'font-size': 25, 'font-weight': 'bold', fill: '#111'
  });
});
[[280, 1271], [1025, 1296]].forEach(([cy, cx]) => {
  addText('Ice Cover (%)', {
    transform: `translate(${cx},${cy}) rotate(90)`, 'text-anchor': 'middle', 'dominant-baseline': 'central',
    'font-size': 25, 'font-weight': 'bold', fill: TITLE_BLUE
  });
});
</script>
</body>
</html>
